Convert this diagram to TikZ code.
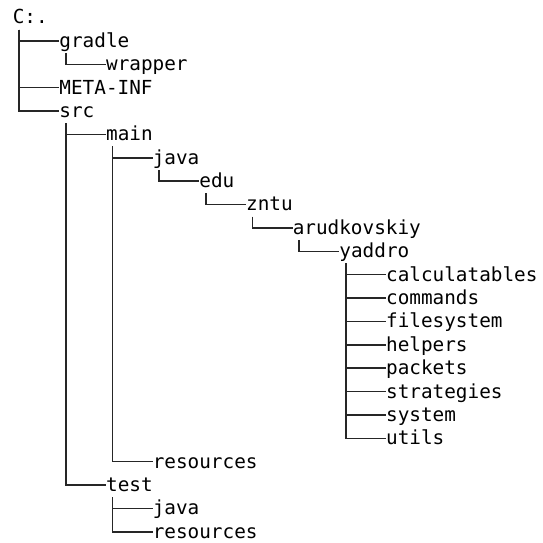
\documentclass[tikz,border=0pt]{standalone}
\usepackage{fontspec}
\newfontfamily\treefont{DejaVu Sans Mono}

\begin{document}
\begin{tikzpicture}[
    x=35pt, y=-17.53pt,
    folder/.style={anchor=west, inner sep=0pt, text height=13.6pt, text depth=4pt, font=\treefont\fontsize{14.5pt}{17.5pt}\selectfont},
    branch/.style={draw=black!85, line width=1.15pt}
]
\useasboundingbox (-0.268,-0.753) rectangle (11.367,22.44);

\node[folder] (root) at (0,0) {C:.};
\node[folder] (gradle) at (1,1) {gradle};
\node[folder] (wrapper) at (2,2) {wrapper};
\node[folder] (metainf) at (1,3) {META-INF};
\node[folder] (src) at (1,4) {src};
\node[folder] (main) at (2,5) {main};
\node[folder] (mainjava) at (3,6) {java};
\node[folder] (edu) at (4,7) {edu};
\node[folder] (zntu) at (5,8) {zntu};
\node[folder] (arud) at (6,9) {arudkovskiy};
\node[folder] (yaddro) at (7,10) {yaddro};
\node[folder] (calc) at (8,11) {calculatables};
\node[folder] (commands) at (8,12) {commands};
\node[folder] (filesystem) at (8,13) {filesystem};
\node[folder] (helpers) at (8,14) {helpers};
\node[folder] (packets) at (8,15) {packets};
\node[folder] (strategies) at (8,16) {strategies};
\node[folder] (system) at (8,17) {system};
\node[folder] (utils) at (8,18) {utils};
\node[folder] (mainres) at (3,19) {resources};
\node[folder] (test) at (2,20) {test};
\node[folder] (testjava) at (3,21) {java};
\node[folder] (testres) at (3,22) {resources};

\draw[branch] ([xshift=5pt]root.south west) |- (gradle.west);
\draw[branch] ([xshift=5pt]root.south west) |- (metainf.west);
\draw[branch] ([xshift=5pt]root.south west) |- (src.west);
\draw[branch] ([xshift=5pt]gradle.south west) |- (wrapper.west);
\draw[branch] ([xshift=5pt]src.south west) |- (main.west);
\draw[branch] ([xshift=5pt]src.south west) |- (test.west);
\draw[branch] ([xshift=5pt]main.south west) |- (mainjava.west);
\draw[branch] ([xshift=5pt]main.south west) |- (mainres.west);
\draw[branch] ([xshift=5pt]mainjava.south west) |- (edu.west);
\draw[branch] ([xshift=5pt]edu.south west) |- (zntu.west);
\draw[branch] ([xshift=5pt]zntu.south west) |- (arud.west);
\draw[branch] ([xshift=5pt]arud.south west) |- (yaddro.west);
\draw[branch] ([xshift=5pt]yaddro.south west) |- (calc.west);
\draw[branch] ([xshift=5pt]yaddro.south west) |- (commands.west);
\draw[branch] ([xshift=5pt]yaddro.south west) |- (filesystem.west);
\draw[branch] ([xshift=5pt]yaddro.south west) |- (helpers.west);
\draw[branch] ([xshift=5pt]yaddro.south west) |- (packets.west);
\draw[branch] ([xshift=5pt]yaddro.south west) |- (strategies.west);
\draw[branch] ([xshift=5pt]yaddro.south west) |- (system.west);
\draw[branch] ([xshift=5pt]yaddro.south west) |- (utils.west);
\draw[branch] ([xshift=5pt]test.south west) |- (testjava.west);
\draw[branch] ([xshift=5pt]test.south west) |- (testres.west);

\end{tikzpicture}
\end{document}
